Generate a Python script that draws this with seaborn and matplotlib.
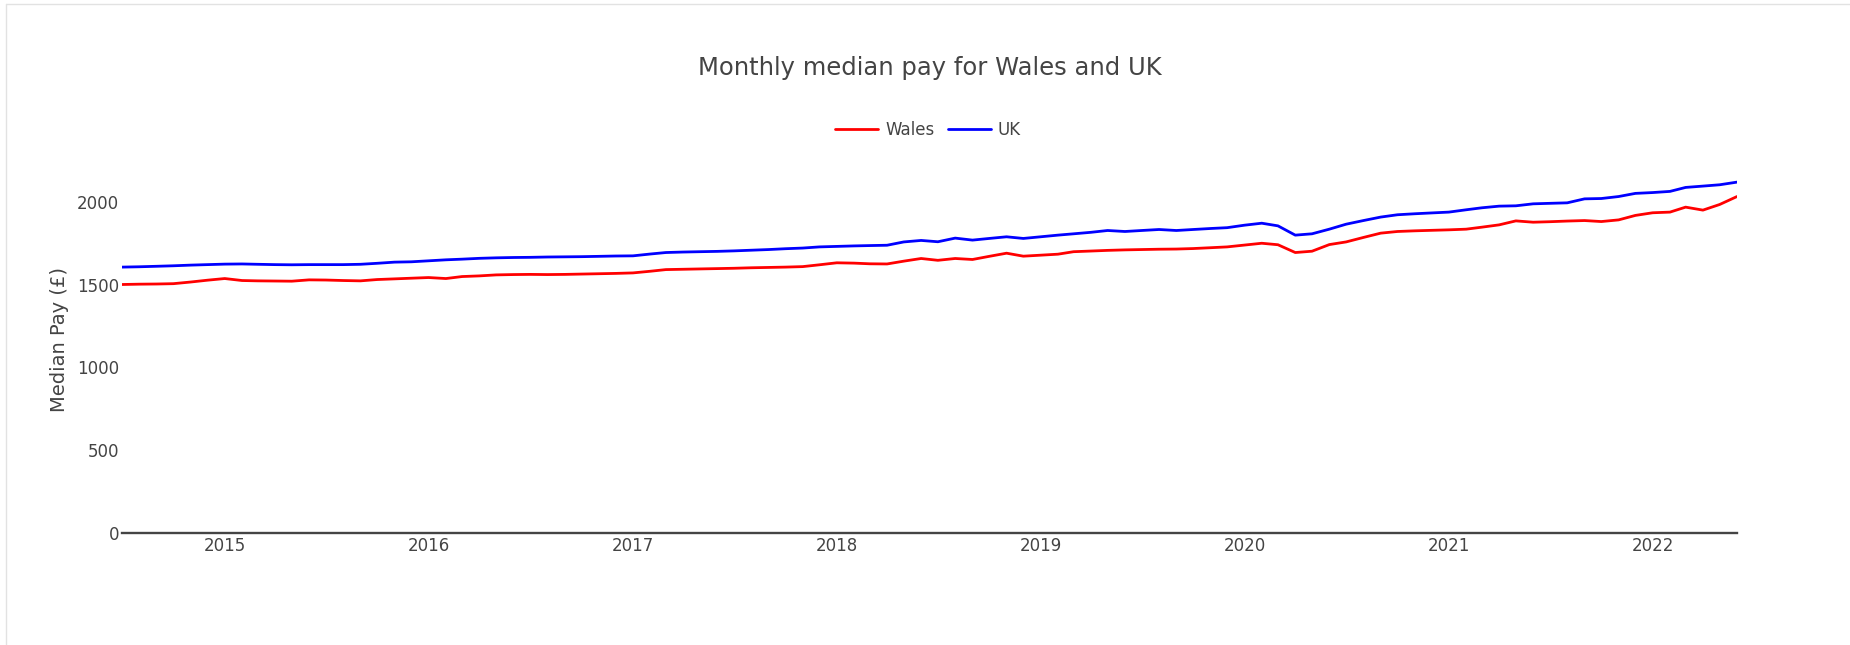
import pandas as pd
import matplotlib.pyplot as plt
import matplotlib.dates as mdates
from matplotlib.lines import Line2D
import seaborn as sns

# monthly points, Jul 2014 .. Jun 2022
months = pd.date_range("2014-07-01", "2022-06-01", freq="MS")

wales = [
    1500, 1502, 1503, 1505, 1515, 1526, 1536, 1524, 1522, 1521, 1520, 1528,
    1527, 1524, 1522, 1530, 1534, 1538, 1542, 1536, 1548, 1552, 1558, 1560,
    1561, 1560, 1561, 1563, 1565, 1567, 1570, 1580, 1590, 1592, 1594, 1596,
    1598, 1601, 1603, 1605, 1608, 1619, 1631, 1629, 1625, 1624, 1641, 1657,
    1646, 1657, 1651, 1670, 1689, 1671, 1677, 1683, 1698, 1702, 1706, 1709,
    1711, 1713, 1714, 1717, 1722, 1727, 1738, 1749, 1740, 1693, 1701, 1741,
    1757, 1784, 1810, 1820, 1824, 1827, 1830, 1834, 1846, 1860, 1884, 1876,
    1879, 1883, 1886, 1880, 1890, 1917, 1933, 1937, 1967, 1949, 1983, 2031,
]

uk = [
    1605, 1607, 1610, 1613, 1617, 1620, 1623, 1624, 1622, 1620, 1619, 1620,
    1620, 1620, 1622, 1628, 1635, 1637, 1643, 1649, 1653, 1658, 1661, 1663,
    1664, 1666, 1667, 1668, 1670, 1672, 1673, 1684, 1693, 1696, 1698, 1700,
    1703, 1707, 1711, 1716, 1720, 1727, 1730, 1733, 1735, 1737, 1757, 1766,
    1758, 1780, 1768, 1778, 1788, 1778, 1788, 1798, 1806, 1815, 1826, 1820,
    1826, 1832, 1826, 1832, 1838, 1843, 1858, 1870, 1854, 1798, 1806, 1834,
    1864, 1886, 1907, 1921, 1927, 1932, 1937, 1951, 1963, 1973, 1975, 1987,
    1990, 1993, 2017, 2019, 2031, 2050, 2055, 2062, 2086, 2094, 2102, 2118,
]

series_names = ["Wales", "UK"]
y_ticks = [0, 500, 1000, 1500, 2000]

data = pd.DataFrame({
    "Date": list(months) * 2,
    "Pay": wales + uk,
    "Area": ["Wales"] * len(wales) + ["UK"] * len(uk),
})

sns.set_theme(style="white")
plt.rcParams["font.family"] = ["DejaVu Sans"]
txt = "#444444"

fig = plt.figure(figsize=(18.5, 6.45), dpi=100)
ax = fig.add_axes([122 / 1850, 112 / 645, 1615 / 1850, 386 / 645])

sns.lineplot(data=data, x="Date", y="Pay", hue="Area", hue_order=series_names,
             palette={"Wales": "#ff0000", "UK": "#0000ff"},
             linewidth=2.0, ax=ax, legend=False)

ax.set_xlim(months[0], months[-1])
ax.set_ylim(0, 2330)
ax.set_yticks(y_ticks)
ax.xaxis.set_major_locator(mdates.YearLocator())
ax.xaxis.set_major_formatter(mdates.DateFormatter("%Y"))
ax.tick_params(axis="both", length=0, labelsize=12, colors=txt)
ax.tick_params(axis="y", pad=2)
ax.tick_params(axis="x", pad=3)

ax.set_xlabel("")
ax.set_ylabel("Median Pay (£)", fontsize=14, color=txt)
ax.yaxis.set_label_coords(-0.0328, 0.5)

for side in ["top", "right", "left"]:
    ax.spines[side].set_visible(False)
ax.spines["bottom"].set_color(txt)
ax.spines["bottom"].set_linewidth(1.7)

handles = [Line2D([], [], color="#ff0000", lw=2.0),
           Line2D([], [], color="#0000ff", lw=2.0)]
fig.legend(handles, series_names, loc="center", ncol=2,
           bbox_to_anchor=(928 / 1850, 1 - 130 / 645), frameon=False,
           fontsize=12, labelcolor=txt, handlelength=2.6,
           handletextpad=0.4, columnspacing=0.8)

fig.text(930 / 1850, 1 - 68 / 645, "Monthly median pay for Wales and UK",
         ha="center", va="center", fontsize=17.5, color=txt)

# thin frame of the page around the chart
fig.add_artist(Line2D([6 / 1850, 6 / 1850], [0, 1 - 4 / 645],
                      transform=fig.transFigure, color="#e2e2e2", lw=1))
fig.add_artist(Line2D([6 / 1850, 1], [1 - 4 / 645, 1 - 4 / 645],
                      transform=fig.transFigure, color="#e2e2e2", lw=1))

fig.savefig("out.png", dpi=100)
